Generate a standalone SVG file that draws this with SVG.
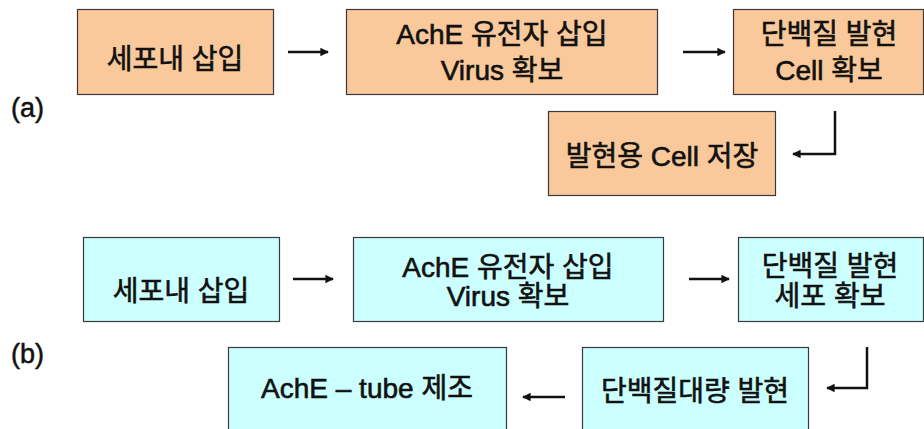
<svg xmlns="http://www.w3.org/2000/svg" width="924" height="429" viewBox="0 0 924 429">
  <style>
    .box-a { fill: #fac99b; stroke: #3a3a3a; stroke-width: 1.2; }
    .box-b { fill: #ccffff; stroke: #3a3a3a; stroke-width: 1.2; }
    .t { font-family: "Liberation Sans", "Noto Sans CJK KR", sans-serif; font-size: 28px; fill: #111; stroke: #111; stroke-width: 0.6; text-anchor: middle; }
    .lbl { font-family: "Liberation Sans", "Noto Sans CJK KR", sans-serif; font-size: 27px; fill: #111; stroke: #111; stroke-width: 0.5; }
    .conn { fill: none; stroke: #111; stroke-width: 2.5; marker-end: url(#head); }
  </style>
  <defs>
    <marker id="head" viewBox="0 0 10 10" refX="9" refY="5" markerWidth="3.8" markerHeight="3.4" orient="auto" markerUnits="strokeWidth">
      <path d="M0,0 L10,5 L0,10 z" fill="#111"/>
    </marker>
  </defs>
  <rect width="924" height="429" fill="#ffffff"/>

  <text class="lbl" x="11" y="117">(a)</text>
  <text class="lbl" x="11" y="363">(b)</text>

  <!-- flow (a) -->
  <g id="a1">
    <rect class="box-a" x="77.5" y="9.5" width="196" height="85"/>
    <text class="t" x="175" y="69">세포내 삽입</text>
  </g>
  <g id="a2">
    <rect class="box-a" x="346.5" y="9.5" width="311" height="85"/>
    <text class="t" x="502" y="44">AchE 유전자 삽입</text>
    <text class="t" x="502" y="80">Virus 확보</text>
  </g>
  <g id="a3">
    <rect class="box-a" x="733.5" y="9.5" width="190" height="85"/>
    <text class="t" x="829" y="44">단백질 발현</text>
    <text class="t" x="829" y="80">Cell 확보</text>
  </g>
  <g id="a4">
    <rect class="box-a" x="548.5" y="111.5" width="227" height="84"/>
    <text class="t" x="662" y="166">발현용 Cell 저장</text>
  </g>

  <!-- flow (b) -->
  <g id="b1">
    <rect class="box-b" x="83.5" y="237.5" width="196" height="84"/>
    <text class="t" x="181" y="301">세포내 삽입</text>
  </g>
  <g id="b2">
    <rect class="box-b" x="353.5" y="237.5" width="310" height="84"/>
    <text class="t" x="508" y="277">AchE 유전자 삽입</text>
    <text class="t" x="508" y="306">Virus 확보</text>
  </g>
  <g id="b3">
    <rect class="box-b" x="738.5" y="237.5" width="185" height="84"/>
    <text class="t" x="830" y="276">단백질 발현</text>
    <text class="t" x="830" y="306">세포 확보</text>
  </g>
  <g id="b4">
    <rect class="box-b" x="582.5" y="347.5" width="226" height="90"/>
    <text class="t" x="695" y="401">단백질대량 발현</text>
  </g>
  <g id="b5">
    <rect class="box-b" x="228.5" y="347.5" width="278" height="90"/>
    <text class="t" x="367" y="398">AchE – tube 제조</text>
  </g>

  <g id="connectors">
    <path class="conn" d="M288,52 H328"/>
    <path class="conn" d="M683,52 H725"/>
    <path class="conn" d="M835,111 V154 H793"/>
    <path class="conn" d="M293,279 H333"/>
    <path class="conn" d="M689,279 H729"/>
    <path class="conn" d="M867,347 V388 H827"/>
    <path class="conn" d="M565,397 H523"/>
  </g>
</svg>
